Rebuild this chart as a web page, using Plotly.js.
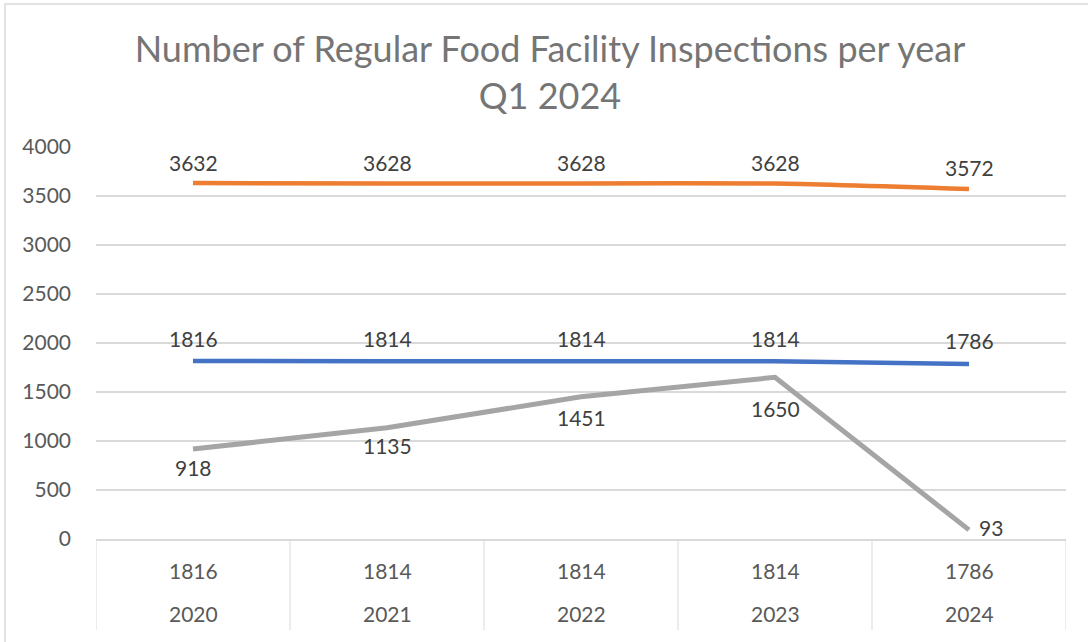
<!DOCTYPE html>
<html><head><meta charset="utf-8">
<script src="https://cdn.plot.ly/plotly-3.0.1.min.js"></script>
<style>body{margin:0;background:#fff}#chart{width:1088px;height:642px}</style>
</head><body><div id="chart"></div>
<script>
const years = ["2020","2021","2022","2023","2024"];
const tableRow = ["1816","1814","1814","1814","1786"];
const orangeVals = [3632,3628,3628,3628,3572];
const blueVals = [1816,1814,1814,1814,1786];
const grayVals = [918,1135,1451,1650,93];

const FONT = "Lato, 'Open Sans', sans-serif";
const idx = years.map((_, i) => i);

const traces = [
  {x: idx, y: orangeVals, mode: 'lines', line: {color: '#ED7D31', width: 4.5, shape: 'spline', smoothing: 0.6}, hoverinfo: 'none'},
  {x: idx, y: blueVals, mode: 'lines', line: {color: '#4472C4', width: 4.5, shape: 'spline', smoothing: 0.6}, hoverinfo: 'none'},
  {x: idx, y: grayVals, mode: 'lines', line: {color: '#A5A5A5', width: 5}, hoverinfo: 'none'}
];

const L = 96, R = 1066, T = 147, B = 539;
const px2py = p => (B - p) / (B - T);
const px2px = p => (p - L) / (R - L);

const shapes = [];
for (let i = 0; i <= years.length; i++) {
  shapes.push({type: 'line', xref: 'x', yref: 'paper', x0: i - 0.5, x1: i - 0.5, y0: 0, y1: px2py(630),
    line: {color: '#D9D9D9', width: 1}});
}
shapes.push({type: 'rect', xref: 'paper', yref: 'paper', x0: px2px(5), x1: px2px(1095), y0: px2py(650), y1: px2py(4),
  line: {color: '#D9D9D9', width: 1.5}, layer: 'below'});

const labelFont = {size: 21, color: '#404040', family: FONT};
const tableFont = {size: 21, color: '#595959', family: FONT};
const annotations = [];
// label offsets (style only)
const grayShiftY = [-18, -18, -21, -31, 2];
const grayShiftX = [0, 0, 0, 0, 22];
idx.forEach(i => {
  annotations.push({xref: 'x', yref: 'y', x: i, y: orangeVals[i], text: String(orangeVals[i]), showarrow: false,
    yshift: 21, font: labelFont});
  annotations.push({xref: 'x', yref: 'y', x: i, y: blueVals[i], text: String(blueVals[i]), showarrow: false,
    yshift: 23, font: labelFont});
  annotations.push({xref: 'x', yref: 'y', x: i, y: grayVals[i], text: String(grayVals[i]), showarrow: false,
    yshift: grayShiftY[i], xshift: grayShiftX[i], font: labelFont});
  annotations.push({xref: 'x', yref: 'paper', x: i, y: px2py(570), text: tableRow[i], showarrow: false,
    font: tableFont, yanchor: 'middle'});
  annotations.push({xref: 'x', yref: 'paper', x: i, y: px2py(613), text: years[i], showarrow: false,
    font: tableFont, yanchor: 'middle'});
});

const layout = {
  width: 1088, height: 642,
  margin: {l: L, r: 1088 - R, t: T, b: 642 - B},
  paper_bgcolor: '#fff', plot_bgcolor: '#fff',
  showlegend: false,
  font: {family: FONT, color: '#595959'},
  title: {text: 'Number of Regular Food Facility Inspections per year<br>Q1 2024',
    x: 550 / 1088, xanchor: 'center', xref: 'container', y: 1 - 62 / 642, yref: 'container', yanchor: 'top',
    font: {size: 36, color: '#757575', family: FONT}},
  xaxis: {range: [-0.5, 4.5], showticklabels: false, showgrid: false, zeroline: false,
    showline: true, linecolor: '#D9D9D9', linewidth: 1.5, ticks: '', fixedrange: true},
  yaxis: {range: [0, 4000], dtick: 500, showgrid: true, gridcolor: '#D9D9D9', gridwidth: 1.5,
    zeroline: false, showline: false, ticks: '', ticklabelstandoff: 24,
    tickfont: {size: 21, color: '#595959', family: FONT}, fixedrange: true},
  shapes: shapes,
  annotations: annotations
};

Plotly.newPlot('chart', traces, layout, {displayModeBar: false, staticPlot: true});
</script>
</body></html>
